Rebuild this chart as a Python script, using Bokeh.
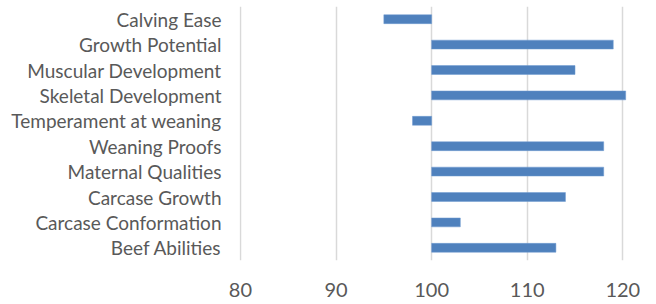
from bokeh.plotting import figure
from bokeh.models import Range1d, FactorRange, ColumnDataSource, FixedTicker
from bokeh.embed import file_html
from bokeh.resources import INLINE

categories = ["Calving Ease", "Growth Potential", "Muscular Development",
              "Skeletal Development", "Temperament at weaning", "Weaning Proofs",
              "Maternal Qualities", "Carcase Growth", "Carcase Conformation",
              "Beef Abilities"]
values = [95, 119, 115, 120.3, 98, 118, 118, 114, 103, 113]
baseline = 100
x_ticks = [80, 90, 100, 110, 120]

src = ColumnDataSource(dict(cat=categories, val=values, base=[baseline] * len(values)))

p = figure(width=640, height=300, output_backend="svg", toolbar_location=None,
           y_range=FactorRange(factors=list(reversed(categories)), range_padding=0),
           x_range=Range1d(79.9, 121.85),
           min_border_left=239, min_border_right=0, min_border_top=6, min_border_bottom=0,
           frame_height=254)
p.outline_line_color = None
p.background_fill_color = "white"
p.border_fill_color = "white"

p.hbar(y="cat", left="base", right="val", height=0.35, source=src,
       fill_color="#4F81BD", line_color="#6f9ad0", line_width=0.5)

p.ygrid.grid_line_color = None
p.xgrid.grid_line_color = "#d9d9d9"
p.xgrid.grid_line_width = 1.5
p.xaxis.ticker = FixedTicker(ticks=x_ticks)

for ax in (p.xaxis, p.yaxis):
    ax.axis_line_color = None
    ax.major_tick_line_color = None
    ax.minor_tick_line_color = None
    ax.major_label_text_color = "#595959"
    ax.major_label_text_font = "Lato"

p.yaxis.major_label_text_font_size = "19px"
p.yaxis.major_label_standoff = 12
p.xaxis.major_label_text_font_size = "20px"
p.xaxis.major_label_standoff = 16

open("out.html", "w").write(file_html(p, INLINE))
